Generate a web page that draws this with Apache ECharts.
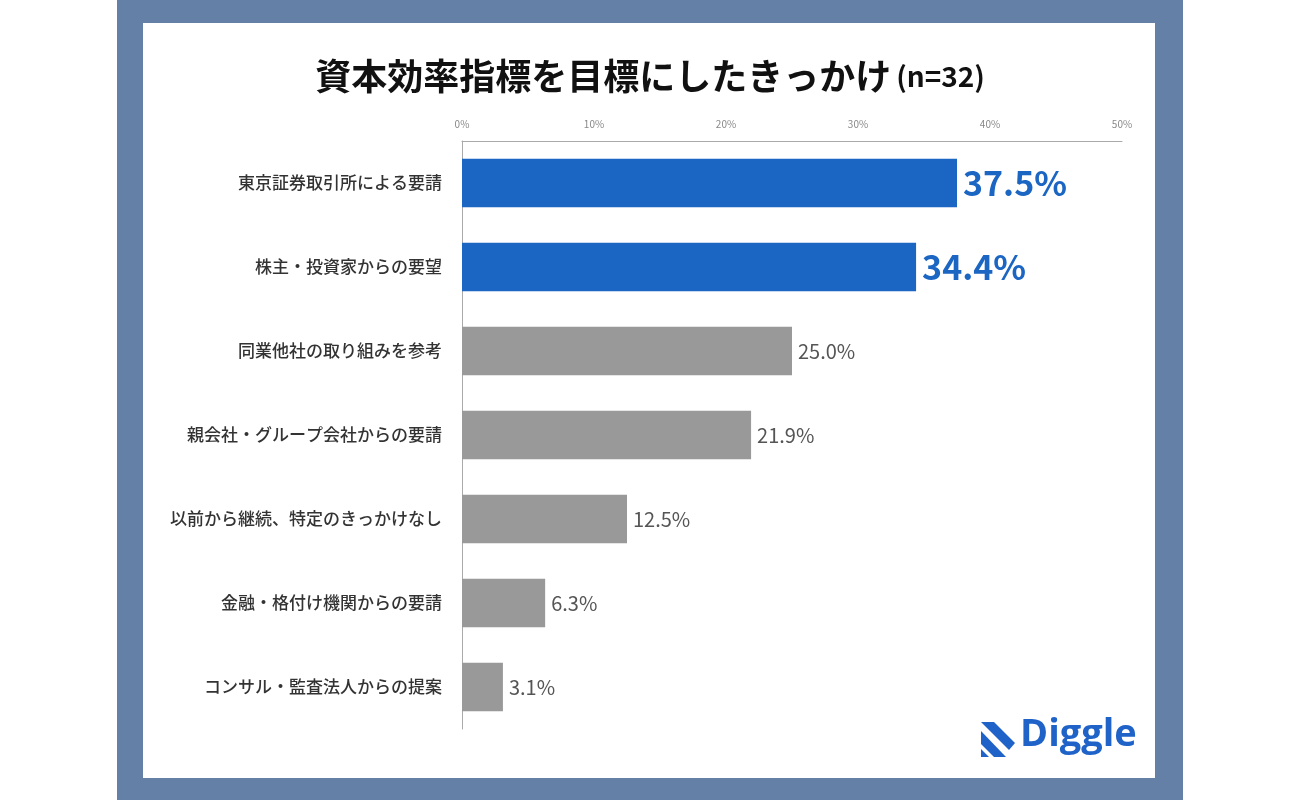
<!DOCTYPE html>
<html><head><meta charset="utf-8">
<script src="https://cdn.jsdelivr.net/npm/echarts@6/dist/echarts.min.js"></script>
<style>html,body{margin:0;padding:0;background:#fff}#c{width:1300px;height:800px}</style>
</head><body><div id="c"></div>
<script>
const categories = ['東京証券取引所による要請','株主・投資家からの要望','同業他社の取り組みを参考','親会社・グループ会社からの要請','以前から継続、特定のきっかけなし','金融・格付け機関からの要請','コンサル・監査法人からの提案'];
const values = [37.5, 34.4, 25.0, 21.9, 12.5, 6.3, 3.1];
const highlighted = [true, true, false, false, false, false, false];
const tickValues = [0, 10, 20, 30, 40, 50];

const BLUE = '#1b65c3', GRAY = '#999999';
const FONT = '"Noto Sans CJK JP", "Noto Sans", sans-serif';

const chart = echarts.init(document.getElementById('c'), null, {renderer: 'canvas'});
chart.setOption({
  backgroundColor: '#ffffff',
  animation: false,
  title: {
    left: 'center', top: 53,
    text: '{a|資本効率指標を目標にしたきっかけ} {b|(n=32)}',
    textStyle: {
      rich: {
        a: {fontSize: 36, fontWeight: 'bold', color: '#111', fontFamily: FONT},
        b: {fontSize: 28, fontWeight: 'bold', color: '#111', fontFamily: FONT}
      }
    }
  },
  graphic: [
    {type: 'rect', z: -10, silent: true, shape: {x: 117, y: 0, width: 1066, height: 800}, style: {fill: '#6580a6'}},
    {type: 'rect', z: -9, silent: true, shape: {x: 143, y: 23, width: 1012, height: 755}, style: {fill: '#ffffff'}},
    {type: 'polygon', shape: {points: [[981,722],[994,722],[1015,743],[1009,750]]}, style: {fill: '#1f62c8'}},
    {type: 'polygon', shape: {points: [[981,731],[1006,757],[994,757],[981,744]]}, style: {fill: '#1f62c8'}},
    {type: 'polygon', shape: {points: [[981,749],[989,757],[981,757]]}, style: {fill: '#1f62c8'}},
    {type: 'text', left: 1020, top: 716, style: {text: 'Diggle', fontSize: 38, fontWeight: 'bold', fontFamily: '"Open Sans", Lato, sans-serif', fill: '#1f62c8'}}
  ],
  grid: {left: 462, right: 178, top: 141, bottom: 71, containLabel: false},
  xAxis: {
    type: 'value', position: 'top', min: tickValues[0], max: tickValues[tickValues.length-1], interval: 10,
    axisLine: {show: true, lineStyle: {color: '#aaaaaa', width: 1}},
    axisTick: {show: false},
    splitLine: {show: false},
    axisLabel: {formatter: '{value}%', fontSize: 10, color: '#888', margin: 12, fontFamily: FONT}
  },
  yAxis: {
    type: 'category', inverse: true, data: categories,
    axisLine: {show: true, lineStyle: {color: '#aaaaaa', width: 1}},
    axisTick: {show: false},
    axisLabel: {fontSize: 17, fontWeight: 500, color: '#333', margin: 20, fontFamily: FONT}
  },
  series: [{
    type: 'bar', barWidth: '58%',
    data: values.map((v, i) => ({
      value: v,
      itemStyle: {color: highlighted[i] ? BLUE : GRAY},
      label: highlighted[i]
        ? {fontSize: 34, fontWeight: 'bold', color: BLUE}
        : {fontSize: 20, fontWeight: 'normal', color: '#555'}
    })),
    label: {show: true, position: 'right', distance: 6, fontFamily: FONT,
      formatter: p => p.value.toFixed(1) + '%'}
  }]
});
</script></body></html>
